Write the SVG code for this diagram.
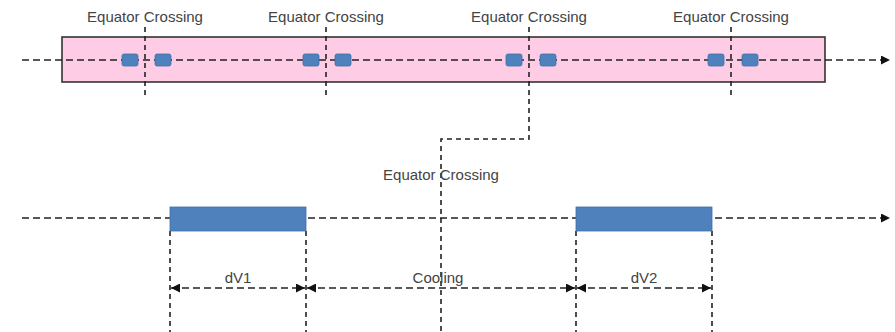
<svg xmlns="http://www.w3.org/2000/svg" width="895" height="332" viewBox="0 0 895 332">
  <defs>
    <marker id="arr" viewBox="0 0 10 10" refX="10" refY="5" markerWidth="9" markerHeight="9" markerUnits="userSpaceOnUse" orient="auto-start-reverse">
      <path d="M0,0 L10,5 L0,10 z" fill="#111"/>
    </marker>
  </defs>
  <style>
    .lbl { font-family: "Liberation Sans", Arial, sans-serif; font-size: 15px; fill: #444; text-anchor: middle; }
    .dash { fill: none; stroke: #222; stroke-width: 1.6; stroke-dasharray: 7 4; }
    .vdash { fill: none; stroke: #222; stroke-width: 1.6; stroke-dasharray: 5 4; }
    .pulse { fill: #4F81BD; stroke: #3F6FA8; stroke-width: 0.8; }
    .band { fill: #FFCCE5; stroke: #333; stroke-width: 1.6; }
  </style>

  <!-- orbit band -->
  <g id="orbit-band">
    <rect class="band" x="62" y="37" width="763" height="45"/>
  </g>

  <g id="connectors">
    <!-- time axes -->
    <line class="dash" x1="22" y1="60" x2="890" y2="60" marker-end="url(#arr)"/>
    <line class="dash" x1="22" y1="218" x2="890" y2="218" marker-end="url(#arr)"/>

    <!-- equator crossing markers -->
    <line class="vdash" x1="145" y1="27" x2="145" y2="98"/>
    <line class="vdash" x1="326" y1="27" x2="326" y2="98"/>
    <line class="vdash" x1="731" y1="27" x2="731" y2="98"/>
    <polyline class="vdash" points="529,27 529,139 441,139 441,332"/>

    <!-- burn boundaries -->
    <line class="vdash" x1="170" y1="231" x2="170" y2="332"/>
    <line class="vdash" x1="306" y1="231" x2="306" y2="332"/>
    <line class="vdash" x1="576" y1="231" x2="576" y2="332"/>
    <line class="vdash" x1="712" y1="231" x2="712" y2="332"/>

    <!-- dimension arrows -->
    <line class="dash" x1="171" y1="288" x2="305" y2="288" marker-start="url(#arr)" marker-end="url(#arr)"/>
    <line class="dash" x1="307" y1="288" x2="575" y2="288" marker-start="url(#arr)" marker-end="url(#arr)"/>
    <line class="dash" x1="577" y1="288" x2="711" y2="288" marker-start="url(#arr)" marker-end="url(#arr)"/>
  </g>

  <!-- small burns either side of each equator crossing -->
  <g id="burns">
    <rect class="pulse" x="122" y="54" width="16" height="12" rx="2"/>
    <rect class="pulse" x="155" y="54" width="16" height="12" rx="2"/>
    <rect class="pulse" x="303" y="54" width="16" height="12" rx="2"/>
    <rect class="pulse" x="335" y="54" width="16" height="12" rx="2"/>
    <rect class="pulse" x="506" y="54" width="16" height="12" rx="2"/>
    <rect class="pulse" x="540" y="54" width="16" height="12" rx="2"/>
    <rect class="pulse" x="708" y="54" width="16" height="12" rx="2"/>
    <rect class="pulse" x="742" y="54" width="16" height="12" rx="2"/>
  </g>

  <!-- long burns on the lower timeline -->
  <g id="burn-dv1">
    <rect class="pulse" x="170" y="207" width="136" height="24"/>
  </g>
  <g id="burn-dv2">
    <rect class="pulse" x="576" y="207" width="136" height="24"/>
  </g>

  <g id="labels">
    <text class="lbl" x="145" y="22">Equator Crossing</text>
    <text class="lbl" x="326" y="22">Equator Crossing</text>
    <text class="lbl" x="529" y="22">Equator Crossing</text>
    <text class="lbl" x="731" y="22">Equator Crossing</text>
    <text class="lbl" x="441" y="180">Equator Crossing</text>
    <text class="lbl" x="238" y="283">dV1</text>
    <text class="lbl" x="438" y="283">Cooling</text>
    <text class="lbl" x="644" y="283">dV2</text>
  </g>
</svg>
